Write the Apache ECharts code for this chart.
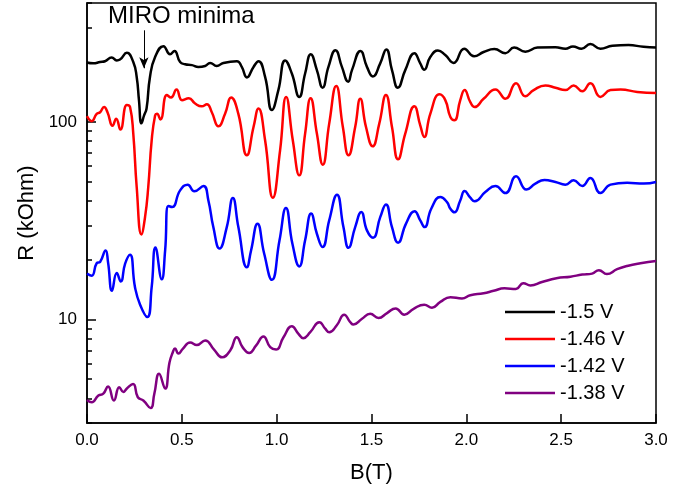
<!DOCTYPE html>
<html>
<head>
<meta charset="utf-8">
<script src="https://cdn.jsdelivr.net/npm/echarts@6/dist/echarts.min.js"></script>
<style>
  html, body { margin: 0; padding: 0; background: #fff; }
  #chart { width: 692px; height: 491px; }
</style>
</head>
<body>
<div id="chart"></div>
<script>
// B (T) and R (kOhm), one pair of arrays per gate voltage
var names = ['-1.5 V', '-1.46 V', '-1.42 V', '-1.38 V'];
var colors = ['#000000', '#ff0000', '#0000ff', '#800080'];

var bBlack = [0, 0.033, 0.069, 0.095, 0.130, 0.157, 0.174, 0.210, 0.244, 0.262, 0.274, 0.287, 0.301, 0.314, 0.332, 0.359, 0.403, 0.438, 0.461, 0.491,
  0.517, 0.553, 0.587, 0.623, 0.649, 0.684, 0.719, 0.790, 0.816, 0.843, 0.878, 0.904, 0.939, 0.975, 1.009, 1.045, 1.080, 1.119, 1.150, 1.180,
  1.212, 1.242, 1.273, 1.310, 1.344, 1.377, 1.397, 1.442, 1.476, 1.507, 1.546, 1.578, 1.608, 1.639, 1.678, 1.726, 1.757, 1.778, 1.810, 1.850,
  1.889, 1.933, 1.989, 2.041, 2.091, 2.148, 2.206, 2.252, 2.311, 2.375, 2.470, 2.522, 2.562, 2.607, 2.654, 2.707, 2.770, 2.855, 2.934, 3.0];
var rBlack = [200, 198, 201, 203, 212, 205, 207, 224, 201, 169, 129, 98.5, 108, 117, 169, 213, 242, 220, 229, 201,
  196, 194, 190, 192, 199, 192, 199, 203, 190, 168, 190, 203, 169, 115, 145, 205, 176, 134, 176, 220,
  183, 149, 190, 231, 190, 160, 183, 229, 190, 170, 198, 233, 183, 149, 183, 223, 198, 184, 213, 230,
  218, 199, 235, 215, 226, 234, 223, 238, 227, 238, 239, 235, 241, 235, 248, 235, 243, 245, 240, 238];

var bRed = [0, 0.025, 0.051, 0.069, 0.090, 0.108, 0.135, 0.154, 0.176, 0.210, 0.227, 0.244, 0.262, 0.287, 0.306, 0.323, 0.341, 0.359, 0.369, 0.387,
  0.421, 0.443, 0.472, 0.501, 0.537, 0.570, 0.605, 0.632, 0.658, 0.693, 0.728, 0.760, 0.798, 0.843, 0.878, 0.904, 0.939, 0.980, 1.018, 1.050,
  1.085, 1.119, 1.150, 1.179, 1.212, 1.243, 1.277, 1.314, 1.349, 1.379, 1.414, 1.441, 1.471, 1.506, 1.541, 1.576, 1.608, 1.640, 1.678, 1.726,
  1.757, 1.778, 1.810, 1.859, 1.889, 1.916, 1.937, 1.968, 1.991, 2.021, 2.044, 2.091, 2.153, 2.206, 2.262, 2.311, 2.355, 2.417, 2.470, 2.522,
  2.566, 2.611, 2.654, 2.707, 2.760, 2.813, 2.901, 3.0];
var rRed = [107, 101, 110, 112, 119, 112, 95.7, 104, 91.5, 122, 119, 87.4, 46.9, 27.0, 33, 46.9, 80.8, 108, 110, 103,
  137, 133, 146, 129, 132, 124, 120, 123, 112, 95.1, 110, 133, 110, 67.8, 94.3, 117, 80.8, 41.4, 71.9, 134,
  80.8, 53.7, 87.4, 132, 87.4, 60.8, 98.1, 152, 94.3, 67.8, 94.3, 131, 94.3, 75.3, 98.1, 137, 94.3, 64.7, 87.4, 120,
  96.2, 84, 110, 138, 129, 106, 102, 129, 145, 126, 119, 131, 146, 131, 157, 135, 145, 153, 149, 145,
  153, 143, 157, 134, 145, 146, 142, 140];

var bBlue = [0, 0.025, 0.051, 0.069, 0.098, 0.111, 0.132, 0.157, 0.178, 0.201, 0.227, 0.253, 0.280, 0.318, 0.341, 0.361, 0.394, 0.412, 0.429, 0.449,
  0.491, 0.531, 0.566, 0.614, 0.640, 0.666, 0.699, 0.737, 0.769, 0.798, 0.843, 0.865, 0.899, 0.934, 0.975, 1.015, 1.049, 1.083, 1.119, 1.150,
  1.182, 1.212, 1.242, 1.277, 1.318, 1.352, 1.379, 1.414, 1.446, 1.476, 1.508, 1.546, 1.576, 1.608, 1.640, 1.682, 1.727, 1.757, 1.780, 1.815,
  1.863, 1.898, 1.916, 1.937, 1.968, 1.991, 2.021, 2.044, 2.100, 2.153, 2.206, 2.262, 2.317, 2.364, 2.412, 2.470, 2.522, 2.566, 2.611, 2.654,
  2.707, 2.760, 2.848, 2.936, 3.0];
var rBlue = [17.1, 16.7, 19.3, 19.6, 22.4, 19.5, 14.0, 17.2, 15.6, 19.2, 21.3, 14.6, 11.9, 10.3, 14.6, 23.2, 16.0, 22.4, 37.6, 37.1,
  45.1, 48.2, 44.6, 47.4, 40.1, 29.4, 22.9, 29.4, 41.2, 29.4, 18.4, 22.4, 30.6, 21.6, 15.9, 25.2, 36.7, 24.2, 18.6, 25.2,
  34.4, 27.2, 23.3, 31.8, 42.9, 29.4, 23.1, 29.4, 35.0, 28.3, 26.0, 33.0, 38.3, 29.4, 24.5, 30.6, 35.4, 31.8, 29.4, 36.4,
  41.7, 39.3, 36.4, 34.9, 40.1, 44.7, 41.4, 39.7, 44.2, 47.4, 43.7, 53.1, 45.5, 48.8, 50.9, 49.7, 48.2, 50.7, 47.4, 52.1,
  43.7, 48.2, 49.3, 48.8, 49.7];

var bPurple = [0, 0.025, 0.060, 0.086, 0.111, 0.142, 0.170, 0.192, 0.209, 0.243, 0.268, 0.297, 0.335, 0.355, 0.380, 0.412, 0.435, 0.452, 0.464, 0.482,
  0.505, 0.544, 0.579, 0.623, 0.670, 0.712, 0.755, 0.790, 0.820, 0.855, 0.892, 0.930, 0.966, 0.997, 1.036, 1.080, 1.115, 1.140, 1.177, 1.225,
  1.256, 1.277, 1.318, 1.356, 1.388, 1.405, 1.450, 1.493, 1.537, 1.582, 1.627, 1.673, 1.722, 1.778, 1.819, 1.863, 1.916, 1.977, 2.021, 2.091,
  2.144, 2.201, 2.261, 2.301, 2.338, 2.399, 2.475, 2.549, 2.611, 2.663, 2.699, 2.741, 2.795, 2.848, 2.918, 3.0];
var rPurple = [3.92, 3.82, 4.13, 4.22, 4.59, 3.90, 4.55, 4.30, 4.47, 4.73, 4.05, 3.90, 3.57, 4.22, 5.32, 4.48, 6.07, 6.82, 7.15, 6.74,
  7.12, 7.66, 7.44, 7.85, 7.06, 6.45, 6.98, 8.15, 7.26, 6.78, 7.41, 8.22, 7.26, 7.06, 8.15, 9.26, 8.48, 8.06, 8.64, 9.71,
  9.00, 8.64, 9.40, 10.6, 9.71, 9.45, 10.1, 10.7, 10.2, 10.8, 11.4, 10.6, 11.35, 11.9, 11.5, 12.3, 13.0, 12.8, 13.3, 13.6,
  14.0, 14.4, 14.3, 15.3, 14.9, 15.5, 16.2, 16.5, 16.9, 17.1, 17.8, 17.0, 18.0, 18.7, 19.3, 19.8];

var xTicks = [0, 0.5, 1, 1.5, 2, 2.5, 3];
var yMinorTicks = [3, 4, 5, 6, 7, 8, 9, 20, 30, 40, 50, 60, 70, 80, 90, 200, 300, 400];
var yMajorTicks = [10, 100];

var font = 'Arial, "Liberation Sans", sans-serif';

function pairs(xs, ys) {
  return xs.map(function (x, i) { return [x, ys[i]]; });
}

var allB = [bBlack, bRed, bBlue, bPurple];
var allR = [rBlack, rRed, rBlue, rPurple];

var series = names.map(function (name, i) {
  var s = {
    name: name,
    type: 'line',
    data: pairs(allB[i], allR[i]),
    smooth: 0.5,
    symbol: 'none',
    showSymbol: false,
    lineStyle: { color: colors[i], width: 2.5 },
    itemStyle: { color: colors[i] },
    z: 10 - i
  };
  if (i === 0) {
    s.markLine = {
      silent: true,
      symbol: ['none', 'arrow'],
      symbolSize: [7, 11],
      label: { show: false },
      lineStyle: { color: '#000', width: 1, type: 'solid' },
      data: [[{ coord: [0.3, 291] }, { coord: [0.3, 187] }]]
    };
  }
  return s;
});

var chart = echarts.init(document.getElementById('chart'), null, { renderer: 'canvas' });

chart.setOption({
  animation: false,
  backgroundColor: '#ffffff',
  textStyle: { fontFamily: font },
  grid: {
    left: 87, right: 36, top: 3, bottom: 68,
    show: true, borderColor: '#000', borderWidth: 1.5, backgroundColor: 'transparent'
  },
  legend: {
    orient: 'vertical',
    left: 505,
    top: 302,
    padding: 0,
    itemWidth: 50,
    itemHeight: 14,
    itemGap: 7,
    data: names.map(function (n, i) {
      return { name: n, icon: 'path://M0,6 L50,6 L50,8.5 L0,8.5 Z', itemStyle: { color: colors[i] } };
    }),
    textStyle: { fontSize: 20, color: '#000', fontFamily: font, lineHeight: 20 }
  },
  xAxis: {
    type: 'value',
    min: 0,
    max: 3,
    interval: 0.5,
    name: 'B(T)',
    nameLocation: 'middle',
    nameGap: 39,
    nameTextStyle: { fontSize: 22, color: '#000', fontFamily: font },
    axisLine: { show: true, onZero: false, lineStyle: { color: '#000', width: 1.5 } },
    axisTick: { show: true, inside: true, length: 9, lineStyle: { color: '#000', width: 1.5 }, customValues: xTicks },
    axisLabel: {
      fontSize: 17, color: '#000', margin: 9, fontFamily: font, customValues: xTicks,
      formatter: function (v) { return v.toFixed(1); }
    },
    splitLine: { show: false }
  },
  yAxis: [
    {
      type: 'log',
      logBase: 10,
      min: 3,
      max: 400,
      name: 'R (kOhm)',
      nameLocation: 'middle',
      nameGap: 44,
      nameRotate: 90,
      nameTextStyle: { fontSize: 22, color: '#000', fontFamily: font },
      axisLine: { show: true, onZero: false, lineStyle: { color: '#000', width: 1.5 } },
      axisTick: { show: true, inside: true, length: 9, lineStyle: { color: '#000', width: 1.5 }, customValues: yMajorTicks },
      axisLabel: { fontSize: 17, color: '#000', margin: 10, fontFamily: font, customValues: yMajorTicks },
      splitLine: { show: false }
    },
    {
      type: 'log',
      logBase: 10,
      min: 3,
      max: 400,
      position: 'left',
      axisLine: { show: false },
      axisTick: { show: true, inside: true, length: 5, lineStyle: { color: '#000', width: 1.5 }, customValues: yMinorTicks },
      axisLabel: { show: false },
      splitLine: { show: false }
    }
  ],
  graphic: [
    {
      type: 'text',
      left: 108,
      top: 4,
      style: { text: 'MIRO minima', fontSize: 24, fill: '#000', fontFamily: font }
    }
  ],
  series: series
});
</script>
</body>
</html>
